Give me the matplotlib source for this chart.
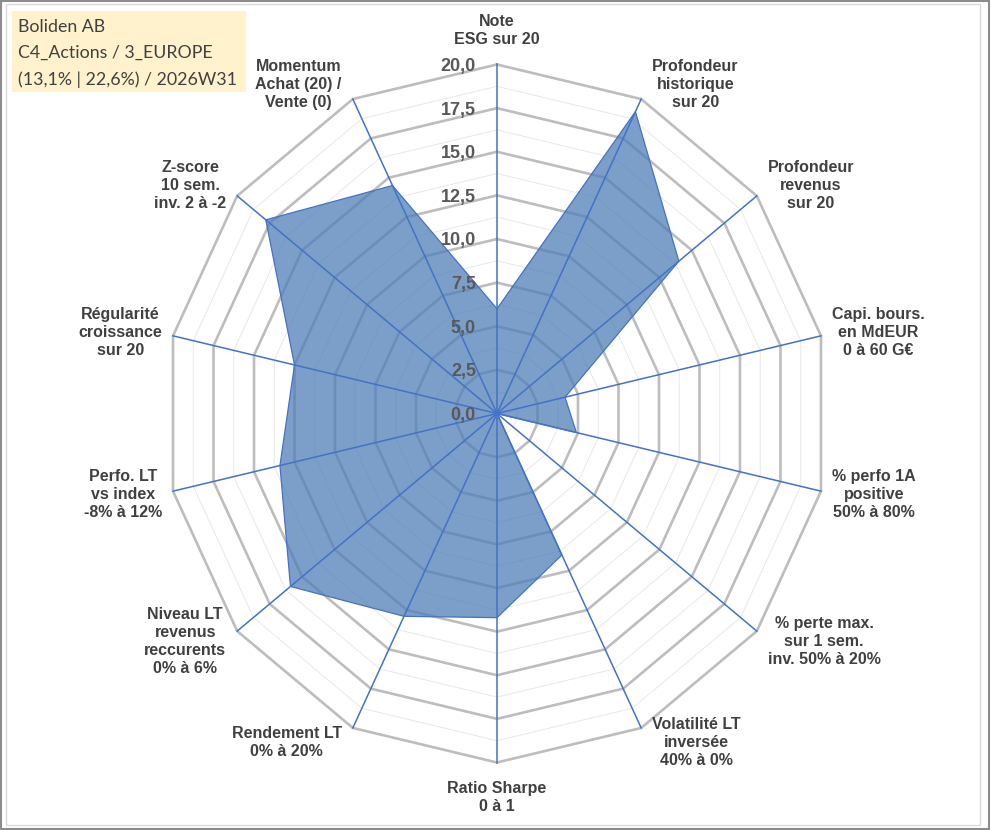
import numpy as np
import matplotlib
matplotlib.use("Agg")
import matplotlib.pyplot as plt
from matplotlib.patches import Rectangle

# ---------------- data ----------------
categories = [
    "Note\nESG sur 20",
    "Profondeur\nhistorique\nsur 20",
    "Profondeur\nrevenus\nsur 20",
    "Capi. bours.\nen MdEUR\n0 à 60 G€",
    "% perfo 1A\npositive\n50% à 80%",
    "% perte max.\nsur 1 sem.\ninv. 50% à 20%",
    "Volatilité LT\ninversée\n40% à 0%",
    "Ratio Sharpe\n0 à 1",
    "Rendement LT\n0% à 20%",
    "Niveau LT\nrevenus\nreccurents\n0% à 6%",
    "Perfo. LT\nvs index\n-8% à 12%",
    "Régularité\ncroissance\nsur 20",
    "Z-score\n10 sem.\ninv. 2 à -2",
    "Momentum\nAchat (20) /\nVente (0)",
]
values = [6.0, 19.2, 14.0, 4.2, 4.9, 0.0, 9.0, 11.7, 12.9, 15.9, 13.4, 12.5, 17.8, 14.5]
major_levels = [2.5, 5.0, 7.5, 10.0, 12.5, 15.0, 17.5, 20.0]
minor_levels = [1.25, 3.75, 6.25, 8.75, 11.25, 13.75, 16.25, 18.75]
tick_labels = ["0,0", "2,5", "5,0", "7,5", "10,0", "12,5", "15,0", "17,5", "20,0"]
tick_values = [0.0, 2.5, 5.0, 7.5, 10.0, 12.5, 15.0, 17.5, 20.0]
title_lines = ["Boliden AB", "C4_Actions / 3_EUROPE", "(13,1% | 22,6%) / 2026W31"]
r_max = 20.0

# ---------------- layout ----------------
W, H = 991, 830
cx, cy_top = 497.0, 413.5
Rx, Ry = 332.3, 349.0

fig = plt.figure(figsize=(W / 100, H / 100), dpi=100)
fig.patch.set_facecolor("white")

ax = fig.add_axes([(cx - Rx) / W, (H - cy_top - Ry) / H, 2 * Rx / W, 2 * Ry / H],
                  projection="polar")
ax.set_aspect("auto")
ax.set_theta_offset(np.pi / 2)
ax.set_theta_direction(-1)
ax.set_ylim(0, r_max)
ax.grid(False)
ax.set_xticks([])
ax.set_yticks([])
ax.spines["polar"].set_visible(False)
ax.patch.set_visible(False)

n = len(categories)
theta = np.arange(n) * 2 * np.pi / n
theta_c = np.append(theta, theta[0] + 2 * np.pi)

# minor rings
for lv in minor_levels:
    ax.plot(theta_c, [lv] * (n + 1), color="#E8E8E8", lw=0.7, zorder=1, clip_on=False)
# major rings
for lv in major_levels:
    ax.plot(theta_c, [lv] * (n + 1), color="#BDBDBD", lw=1.9, zorder=1.5, clip_on=False,
            solid_joinstyle="miter")

# data polygon
vals_c = np.append(values, values[0])
ax.fill(theta_c, vals_c, facecolor="#4F7FB8", alpha=0.75, edgecolor="none", zorder=2,
        clip_on=False)
ax.plot(theta_c, vals_c, color="#4472C4", lw=0.9, zorder=2.5, clip_on=False)

# spokes
for t in theta:
    ax.plot([t, t], [0, r_max], color="#4472C4", lw=1.1, zorder=3, clip_on=False)

# radial tick labels
for tv, tl in zip(tick_values, tick_labels):
    ax.annotate(tl, xy=(0, tv), xytext=(-21, -2), textcoords="offset pixels",
                ha="right", va="center", fontsize=13, fontweight="bold",
                color="#595959", family="Liberation Sans", zorder=4)

# category labels
for t, lab in zip(theta, categories):
    phi = np.pi / 2 - t
    c, s = np.cos(phi), np.sin(phi)
    if abs(c) < 0.1:
        ha = "center"
        va = "bottom" if s > 0 else "top"
        off = (0, 18 if s > 0 else -18)
    else:
        ha = "left" if c > 0 else "right"
        va = "center"
        off = (11 * np.sign(c), 16 * s)
    ax.annotate(lab, xy=(t, r_max), xytext=off, textcoords="offset pixels",
                ha=ha, va=va, multialignment="center", fontsize=11.5,
                fontweight="bold", color="#404040", family="Liberation Sans",
                linespacing=1.25, annotation_clip=False)

# title box
fig.patches.append(Rectangle((12 / W, 1 - 92 / H), 234 / W, 81 / H,
                             transform=fig.transFigure, facecolor="#FFF2CC",
                             edgecolor="none", zorder=0))
for i, line in enumerate(title_lines):
    fig.text(18 / W, 1 - (26.5 + i * 26.7) / H, line, ha="left", va="center",
             fontsize=12.8, color="#404040", family="Lato")

# borders
fig.patches.append(Rectangle((6 / W, 5 / H), 974 / W, 821 / H, transform=fig.transFigure,
                             fill=False, edgecolor="#D9D9D9", lw=1.0))
fig.patches.append(Rectangle((0.5 / W, 1 / H), (W - 2.5) / W, (H - 2) / H,
                             transform=fig.transFigure, fill=False,
                             edgecolor="#8C8C8C", lw=1.5))

fig.savefig("out.png", dpi=100)
